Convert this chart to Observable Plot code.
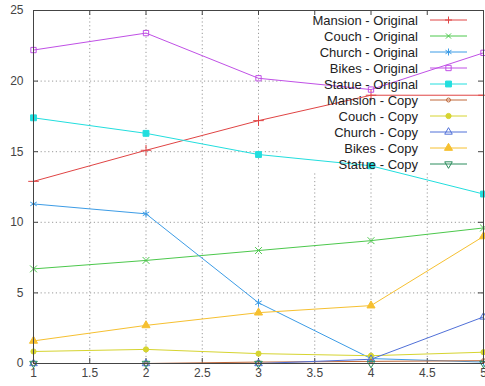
<!DOCTYPE html>
<html>
<head>
<meta charset="utf-8">
<script src="https://cdn.jsdelivr.net/npm/d3@7"></script>
<script src="https://cdn.jsdelivr.net/npm/@observablehq/plot@0.6"></script>
<style>
  html, body { margin: 0; padding: 0; background: #fff; }
  svg { display: block; }
</style>
</head>
<body>
<div id="chart"></div>
<script>
// ---- data ----
const xValues = [1, 2, 3, 4, 5];
const seriesNames = [
  "Mansion - Original", "Couch - Original", "Church - Original", "Bikes - Original", "Statue - Original",
  "Mansion - Copy", "Couch - Copy", "Church - Copy", "Bikes - Copy", "Statue - Copy"
];
const mansionOriginal = [12.9, 15.1, 17.2, 19.0, 19.0];
const couchOriginal   = [6.7, 7.3, 8.0, 8.7, 9.6];
const churchOriginal  = [11.3, 10.6, 4.3, 0.35, 0.1];
const bikesOriginal   = [22.2, 23.4, 20.2, 19.4, 22.0];
const statueOriginal  = [17.4, 16.3, 14.8, 14.0, 12.0];
const mansionCopy     = [0, 0, 0.1, 0.15, 0.2];
const couchCopy       = [0.85, 1.0, 0.7, 0.55, 0.8];
const churchCopy      = [0, 0, 0, 0.3, 3.3];
const bikesCopy       = [1.6, 2.7, 3.6, 4.1, 9.0];
const statueCopy      = [0, 0, 0, 0, 0];
const xTicks = [1, 1.5, 2, 2.5, 3, 3.5, 4, 4.5, 5];
const yTicks = [0, 5, 10, 15, 20, 25];

const seriesValues = [mansionOriginal, couchOriginal, churchOriginal, bikesOriginal, statueOriginal,
  mansionCopy, couchCopy, churchCopy, bikesCopy, statueCopy];

// ---- styles ----
const sqrt3 = Math.sqrt(3);
const invTriangle = {
  draw(context, size) {
    const y = -Math.sqrt(size / (sqrt3 * 3));
    context.moveTo(0, -y * 2);
    context.lineTo(-sqrt3 * y, y);
    context.lineTo(sqrt3 * y, y);
    context.closePath();
  }
};
const styles = [
  {color: "#e04444", symbol: "plus", filled: false, r: 3.5},
  {color: "#4cc84c", symbol: "times", filled: false, r: 3.2},
  {color: "#3c9ce6", symbol: "asterisk", filled: false, r: 3.5},
  {color: "#c050e6", symbol: "square", filled: false, r: 3.0},
  {color: "#22dede", symbol: "square", filled: true, r: 3.3},
  {color: "#c0683a", symbol: "circle", filled: false, r: 2.0},
  {color: "#d6d430", symbol: "circle", filled: true, r: 2.6},
  {color: "#5070d8", symbol: "triangle", filled: false, r: 2.8},
  {color: "#f6c030", symbol: "triangle", filled: true, r: 3.0},
  {color: "#2a8c5c", symbol: invTriangle, filled: false, r: 2.8}
];

const table = seriesNames.map((name, i) =>
  xValues.map((x, j) => ({series: name, x, y: seriesValues[i][j]}))
);

const W = 485, H = 386, ML = 33, MR = 2, MT = 10, MB = 23;
const PW = W - ML - MR, PH = H - MT - MB;
const axisColor = "#444";

const marks = [
  Plot.gridX(xTicks.slice(1, -1), {stroke: "#9a9a9a", strokeOpacity: 1, strokeDasharray: "1.2,2.6"}),
  Plot.gridY(yTicks.slice(1, -1), {stroke: "#9a9a9a", strokeOpacity: 1, strokeDasharray: "1.2,2.6"}),
  Plot.frame({fill: "white", stroke: "none", insetLeft: 247, insetBottom: 191}),
  // inward tick marks (mirrored)
  Plot.ruleX(xTicks, {x: d => d, insetTop: PH - 5, stroke: axisColor}),
  Plot.ruleX(xTicks, {x: d => d, insetBottom: PH - 5, stroke: axisColor}),
  Plot.ruleY(yTicks, {y: d => d, insetRight: PW - 5, stroke: axisColor}),
  Plot.ruleY(yTicks, {y: d => d, insetLeft: PW - 5, stroke: axisColor}),
  Plot.axisX(xTicks, {tickSize: 0, tickPadding: 5, fontSize: 12, fill: "#444", label: null, tickFormat: d => String(d)}),
  Plot.axisY(yTicks, {tickSize: 0, tickPadding: 10, fontSize: 12, fill: "#444", label: null, tickFormat: d => String(d)})
];

table.forEach((rows, i) => {
  const s = styles[i];
  marks.push(Plot.line(rows, {x: "x", y: "y", stroke: s.color, strokeWidth: 1}));
});
table.forEach((rows, i) => {
  const s = styles[i];
  marks.push(Plot.dot(rows, {
    x: "x", y: "y", symbol: s.symbol, r: s.r,
    fill: s.filled ? s.color : "none",
    stroke: s.color, strokeWidth: 1
  }));
});
marks.push(Plot.frame({stroke: "#444", strokeWidth: 1}));

const svg = Plot.plot({
  width: W, height: H,
  marginLeft: ML, marginRight: MR, marginTop: MT, marginBottom: MB,
  style: {fontFamily: "'Liberation Sans', Arial, sans-serif", fontSize: "12px", background: "white"},
  x: {domain: [1, 5], label: null},
  y: {domain: [0, 25], label: null},
  marks
});
document.getElementById("chart").appendChild(svg);

// ---- legend (gnuplot-style key, inside top right) ----
const key = d3.select(svg).append("g")
  .attr("font-family", "'Liberation Sans', Arial, sans-serif")
  .attr("font-size", 13);
seriesNames.forEach((name, i) => {
  const s = styles[i];
  const y = 20 + 16 * i;
  key.append("text").attr("x", 418).attr("y", y).attr("dy", "0.35em")
    .attr("text-anchor", "end").attr("fill", "#222").text(name);
  key.append("line").attr("x1", 430).attr("x2", 467).attr("y1", y).attr("y2", y)
    .attr("stroke", s.color).attr("stroke-width", 1);
});
const symMap = {circle: d3.symbolCircle, square: d3.symbolSquare, triangle: d3.symbolTriangle};
seriesNames.forEach((name, i) => {
  const s = styles[i];
  const y = 20 + 16 * i, x = 448.5;
  const size = s.r * s.r * Math.PI;
  const g = key.append("g").attr("transform", `translate(${x},${y})`);
  const rr = s.r;
  if (s.symbol === "plus") {
    g.append("path").attr("d", `M${-rr},0H${rr}M0,${-rr}V${rr}`).attr("stroke", s.color).attr("fill", "none");
  } else if (s.symbol === "times") {
    const a = rr * 0.8;
    g.append("path").attr("d", `M${-a},${-a}L${a},${a}M${a},${-a}L${-a},${a}`).attr("stroke", s.color).attr("fill", "none");
  } else if (s.symbol === "asterisk") {
    const a = rr * 0.85;
    g.append("path").attr("d", `M0,${-rr}V${rr}M${-a},${-rr/2}L${a},${rr/2}M${a},${-rr/2}L${-a},${rr/2}`).attr("stroke", s.color).attr("fill", "none");
  } else {
    const type = typeof s.symbol === "string" ? symMap[s.symbol] : s.symbol;
    g.append("path").attr("d", d3.symbol(type, size)())
      .attr("stroke", s.color).attr("fill", s.filled ? s.color : "none");
  }
});
</script>
</body>
</html>
